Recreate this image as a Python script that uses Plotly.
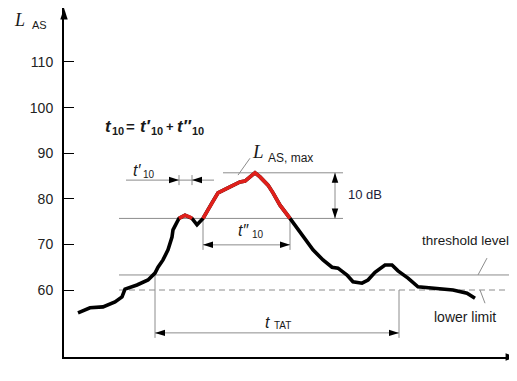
import plotly.graph_objects as go

# ---- data (time in arbitrary units, level in dB) ----
time = [14, 26, 39, 51, 58, 61, 73, 84, 91, 94, 99, 104, 108, 109, 113, 115, 121, 126, 128,
        133, 136, 139, 148, 154, 166, 176, 181, 186, 191, 196, 204, 209, 216, 226, 234, 241,
        249, 259, 268, 274, 283, 289, 298, 304, 311, 321, 328, 334, 344, 354, 369, 389, 403, 411]
level = [55.0, 56.1, 56.3, 57.4, 58.5, 60.2, 61.1, 62.2, 63.7, 65.0, 66.6, 68.8, 71.6, 73.2,
         74.9, 75.7, 76.4, 76.0, 75.7, 74.3, 74.9, 75.7, 79.1, 81.3, 82.6, 83.7, 83.9, 84.8,
         85.7, 84.8, 83.0, 81.3, 78.6, 75.7, 73.2, 71.0, 68.8, 66.6, 65.0, 64.8, 63.3, 61.8,
         61.5, 62.2, 63.9, 65.5, 65.5, 64.2, 62.6, 60.7, 60.4, 60.0, 59.3, 58.2]

y_ticks = [60, 70, 80, 90, 100, 110]
L_max = 85.7
threshold = 63.3
lower_limit = 60.0
t10_prime = [115, 128]
t10_dprime = [139, 226]
t_tat = [91, 335]

# ---- layout helpers ----
X_RANGE = [0, 453]
Y_RANGE = [45.31, 121.84]
GRAY = "#8c8c8c"
red_level = [v if v >= L_max - 10 - 1e-9 else None for v in level]

fig = go.Figure()
fig.add_trace(go.Scatter(x=time, y=level, mode="lines",
                         line=dict(color="black", width=3.6), hoverinfo="skip"))
fig.add_trace(go.Scatter(x=time, y=red_level, mode="lines", connectgaps=False,
                         line=dict(color="#e0201b", width=3.6), hoverinfo="skip"))


def seg(x0, y0, x1, y1, dash="solid", color=GRAY, width=1):
    fig.add_shape(type="line", x0=x0, y0=y0, x1=x1, y1=y1, xref="x", yref="y",
                  line=dict(color=color, width=width, dash=dash), layer="below")


hx, hy, ha = [], [], []


def head(x, y, angle):
    hx.append(x)
    hy.append(y)
    ha.append(angle)


lvl10 = L_max - 10
# reference levels
seg(55, threshold, 453, threshold)
seg(55, lower_limit, 453, lower_limit, dash="6px,4px")
seg(159, L_max, 279, L_max)
seg(55, lvl10, 279, lvl10)

# 10 dB arrow
seg(271, L_max, 271, lvl10)
head(271, L_max, 0)
head(271, lvl10, 180)

# t'10 markers
y_tp = 84.1
seg(62, y_tp, 150, y_tp)
seg(t10_prime[0], y_tp - 1.1, t10_prime[0], y_tp + 1.1)
seg(t10_prime[1], y_tp - 1.1, t10_prime[1], y_tp + 1.1)
head(t10_prime[0], y_tp, 90)
head(t10_prime[1], y_tp, 270)

# t''10 markers
y_tdp = 69.9
seg(t10_dprime[0], lvl10, t10_dprime[0], 68.8)
seg(t10_dprime[1], lvl10, t10_dprime[1], 68.8)
seg(t10_dprime[0], y_tdp, t10_dprime[1], y_tdp)
head(t10_dprime[0], y_tdp, 270)
head(t10_dprime[1], y_tdp, 90)

# t_TAT markers
y_tat = 50.6
seg(t_tat[0], threshold, t_tat[0], 49.5)
seg(t_tat[1], lower_limit, t_tat[1], 49.5)
seg(t_tat[0], y_tat, t_tat[1], y_tat)
head(t_tat[0], y_tat, 270)
head(t_tat[1], y_tat, 90)

# leader lines
seg(174, 85.2, 186, 88.9)
seg(414, threshold, 423, 67.0)
seg(416, lower_limit, 421, 57.1)

fig.add_trace(go.Scatter(x=hx, y=hy, mode="markers", hoverinfo="skip", cliponaxis=False,
                         marker=dict(symbol="arrow", size=10.5, angle=ha, color="black",
                                     line=dict(width=0))))
# axis arrows
fig.add_trace(go.Scatter(x=[X_RANGE[0], X_RANGE[1]], y=[Y_RANGE[1], Y_RANGE[0]], mode="markers",
                         hoverinfo="skip", cliponaxis=False,
                         marker=dict(symbol="arrow", size=12, angle=[0, 90], color="black",
                                     line=dict(width=0))))

SANS = "Liberation Sans, Arial"
SERIF = "Liberation Serif, Times New Roman"

# plot area in window pixels (for placing the text pieces)
PX0, PX1, PY0, PY1 = 64, 517, 8, 357


def text(px, py, s, size=13, color="#1a1a1a", xanchor="left", family=SANS,
         italic=False, bold=False):
    fig.add_annotation(x=(px - PX0) / (PX1 - PX0), y=(PY1 - py) / (PY1 - PY0),
                       xref="paper", yref="paper", text=s, showarrow=False,
                       xanchor=xanchor, yanchor="middle", borderpad=0,
                       font=dict(family=family, size=size, color=color,
                                 style="italic" if italic else "normal",
                                 weight="bold" if bold else "normal"))


# axis title L_AS
text(13, 20, "L", size=18, family=SERIF, italic=True)
text(31, 25, "AS", size=11)
# L_AS,max
text(251, 152, "L", size=19, family=SERIF, italic=True)
text(267, 158, "AS, max", size=12)

# t10 = t'10 + t''10
text(104, 126, "t", size=17, italic=True, bold=True)
text(111, 131, "10", size=11, bold=True)
text(125, 126, "=", size=15, bold=True)
text(139, 126, "t′", size=17, italic=True, bold=True)
text(150, 131, "10", size=11, bold=True)
text(165, 126, "+", size=13, bold=True)
text(176, 126, "t″", size=17, italic=True, bold=True)
text(191, 131, "10", size=11, bold=True)

# t'10
text(132, 170, "t′", size=16, italic=True)
text(142, 174, "10", size=10)
# t''10
text(237, 230, "t″", size=16, italic=True)
text(251, 234, "10", size=10)
# t_TAT
text(264, 322, "t", size=16, italic=True)
text(273, 325, "TAT", size=10)

text(365, 194, "10 dB", size=13, color="#1c1c3a", xanchor="center")
text(510, 240, "threshold level", size=13.5, xanchor="right")
text(465, 317, "lower limit", size=14, xanchor="center")

# the page adds an 8px body margin, so the figure is offset by 8px
fig.update_layout(
    width=509, height=365, margin=dict(l=56, r=0, t=0, b=16),
    paper_bgcolor="white", plot_bgcolor="white", showlegend=False,
    xaxis=dict(range=X_RANGE, showgrid=False, zeroline=False, showline=True,
               linecolor="black", linewidth=2, showticklabels=False, ticks=""),
    yaxis=dict(range=Y_RANGE, showgrid=False, zeroline=False, showline=True,
               linecolor="black", linewidth=2, tickvals=y_ticks,
               ticktext=[str(v) for v in y_ticks], ticks="inside", ticklen=10,
               tickcolor="black", tickwidth=1, ticklabelstandoff=6,
               tickfont=dict(family=SANS, size=14, color="#222")),
)

fig.write_html("out.html")
